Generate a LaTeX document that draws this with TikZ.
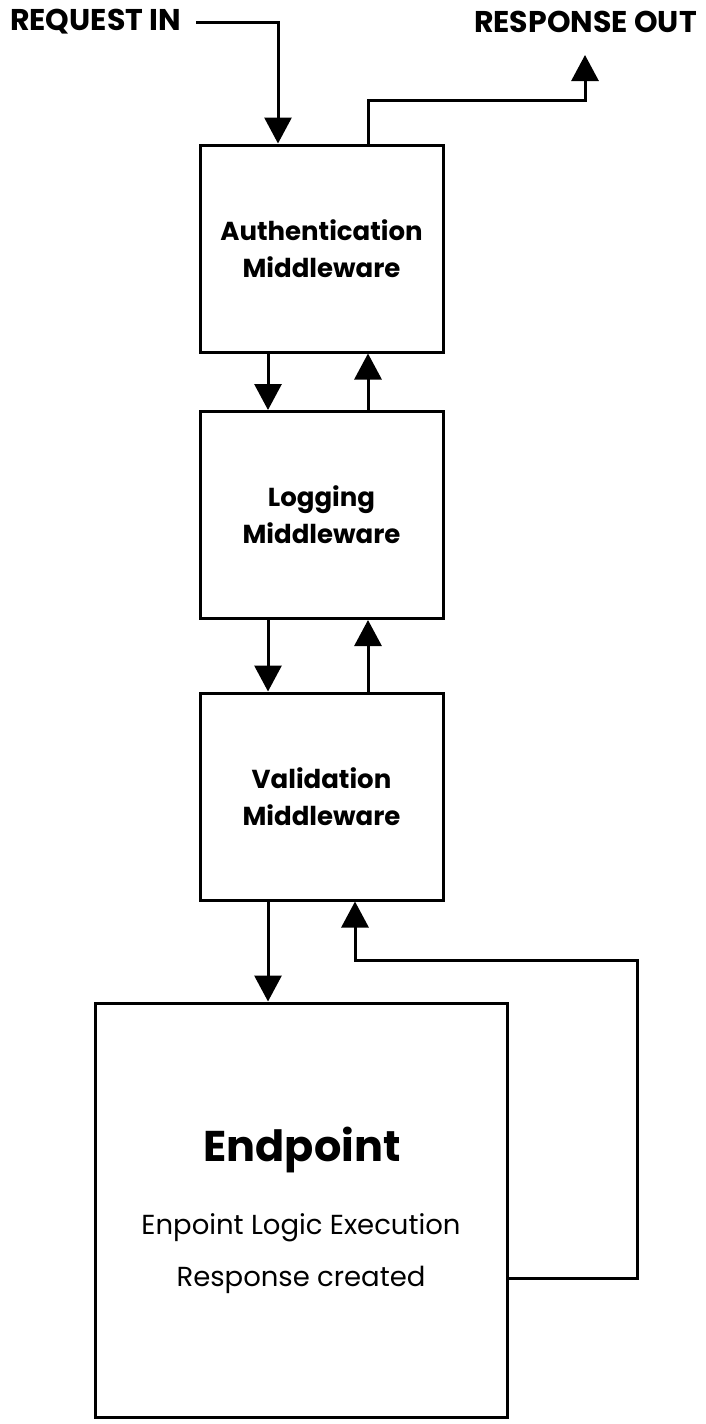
\documentclass[tikz,border=0pt]{standalone}
\usepackage{fontspec}
\setmainfont{Poppins}
\usetikzlibrary{arrows.meta}
\begin{document}
\begin{tikzpicture}[x=1pt,y=-1pt,
  box/.style={draw,line width=3pt,minimum width=243pt,minimum height=207pt,inner sep=0pt,align=center,font=\fontsize{26}{37}\selectfont\bfseries},
  conn/.style={line width=3pt,-{Triangle[width=27pt,length=26pt]}},
  lbl/.style={font=\fontsize{30}{34}\selectfont\bfseries,inner sep=0pt}]
\useasboundingbox (0,0) rectangle (706,1424);
\node[box] (auth) at (321.5,248.5) {Authentication\\Middleware};
\node[box] (log) at (321.5,515) {Logging\\Middleware};
\node[box] (val) at (321.5,796.5) {Validation\\Middleware};
\node[box,minimum width=412pt,minimum height=414pt] (ep) at (301,1210) {};
\node[font=\fontsize{43}{50}\selectfont\bfseries,inner sep=0pt] (eptitle) at (302,1150) {Endpoint};
\node[font=\fontsize{27.5}{30}\selectfont,inner sep=0pt] (eplogic) at (301,1228) {Enpoint Logic Execution};
\node[font=\fontsize{27.5}{30}\selectfont,inner sep=0pt] (epresp) at (301,1280) {Response created};
\node[lbl,anchor=west] (reqin) at (10,22) {REQUEST IN};
\node[lbl,anchor=east] (respout) at (697,22) {RESPONSE OUT};
\coordinate (dx) at (268,0);
\coordinate (ux) at (368,0);
\coordinate (q1) at (278,22);
\coordinate (r1) at (368,100);
\coordinate (r2) at (585,100);
\coordinate (rtip) at (585,55);
\coordinate (l1) at (637,1278);
\coordinate (l2) at (637,960);
\coordinate (l3) at (355,960);
\draw[conn] ([xshift=15pt]reqin.east) -- (q1) -- (auth.north -| q1);
\draw[conn] (auth.north -| r1) -- (r1) -- (r2) -- (rtip);
\draw[conn] (auth.south -| dx) -- (log.north -| dx);
\draw[conn] (log.north -| ux) -- (auth.south -| ux);
\draw[conn] (log.south -| dx) -- (val.north -| dx);
\draw[conn] (val.north -| ux) -- (log.south -| ux);
\draw[conn] (val.south -| dx) -- (ep.north -| dx);
\draw[conn] (ep.east |- l1) -- (l1) -- (l2) -- (l3) -- (val.south -| l3);
\end{tikzpicture}
\end{document}
